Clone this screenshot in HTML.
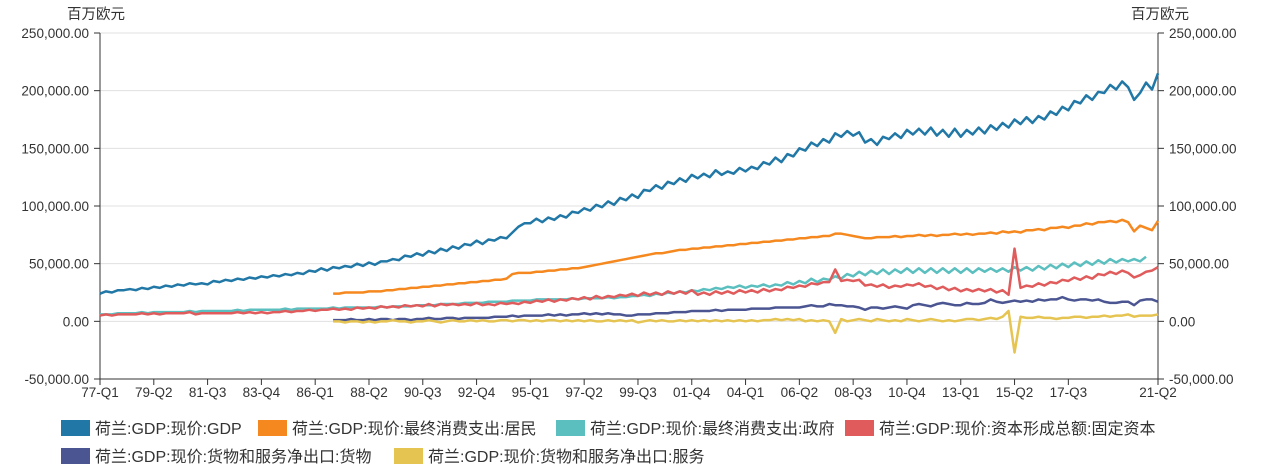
<!DOCTYPE html>
<html><head><meta charset="utf-8">
<style>
html,body{margin:0;padding:0;background:#fff;}
body{width:1266px;height:470px;overflow:hidden;font-family:"Liberation Sans","Noto Sans CJK SC",sans-serif;}
svg text{font-family:"Liberation Sans","Noto Sans CJK SC",sans-serif;}
</style></head>
<body>
<svg id="chart" width="1266" height="470" xmlns="http://www.w3.org/2000/svg"></svg>
<script>
const yTicks=[250000,200000,150000,100000,50000,0,-50000];
const yTickLabels=["250,000.00","200,000.00","150,000.00","100,000.00","50,000.00","0.00","-50,000.00"];
const xTickLabels=["77-Q1","79-Q2","81-Q3","83-Q4","86-Q1","88-Q2","90-Q3","92-Q4","95-Q1","97-Q2","99-Q3","01-Q4","04-Q1","06-Q2","08-Q3","10-Q4","13-Q1","15-Q2","17-Q3","21-Q2"];
const xTickIndex=[0,9,18,27,36,45,54,63,72,81,90,99,108,117,126,135,144,153,162,177];
const seriesNames=["荷兰:GDP:现价:GDP","荷兰:GDP:现价:最终消费支出:居民","荷兰:GDP:现价:最终消费支出:政府","荷兰:GDP:现价:资本形成总额:固定资本","荷兰:GDP:现价:货物和服务净出口:货物","荷兰:GDP:现价:货物和服务净出口:服务"];
// values in thousand million EUR
const gdp=[24,26,25,27,27,28,27,29,28,30,29,31,30,32,31,33,32,33,32,35,34,36,35,37,36,38,37,39,38,40,39,41,40,42,41,44,43,46,44,47,46,48,47,50,48,51,49,52,52,54,53,57,56,59,57,61,59,63,61,65,63,67,66,70,67,71,70,73,72,77,82,85,85,89,86,90,88,92,90,95,94,98,96,101,99,104,101,107,105,110,107,114,113,118,115,121,119,124,121,127,124,128,125,131,127,130,128,133,130,134,132,138,136,142,138,145,143,150,148,155,152,158,155,163,160,165,161,164,155,158,153,160,158,163,159,166,162,167,162,168,161,166,160,167,160,166,162,168,163,170,166,172,168,175,171,177,172,178,175,182,179,186,183,191,189,196,192,199,198,205,201,208,203,192,198,207,201,215];
const household=[null,null,null,null,null,null,null,null,null,null,null,null,null,null,null,null,null,null,null,null,null,null,null,null,null,null,null,null,null,null,null,null,null,null,null,null,null,null,null,24,24,25,25,25,25,26,26,26,27,27,28,28,29,29,30,30,31,31,32,32,33,33,34,34,35,35,36,36,37,41,42,42,42,43,43,44,44,45,45,46,46,47,48,49,50,51,52,53,54,55,56,57,58,59,59,60,61,62,62,63,63,64,64,65,65,66,66,67,67,68,68,69,69,70,70,71,71,72,72,73,73,74,74,76,76,75,74,73,72,72,73,73,73,74,73,74,74,75,74,75,74,75,75,76,75,76,75,76,76,77,76,78,77,78,77,79,79,80,79,81,81,82,81,83,83,85,84,86,86,87,86,88,86,78,83,81,79,87];
const government=[6,6,6,7,7,7,7,8,7,8,8,8,8,8,8,9,8,9,9,9,9,9,9,10,9,10,10,10,10,10,10,11,10,11,11,11,11,11,11,12,11,12,12,12,12,12,12,13,12,13,13,13,13,14,14,14,14,15,15,15,15,16,16,16,16,17,17,17,17,18,18,18,18,19,19,19,19,19,19,20,19,20,20,20,20,21,20,21,21,22,22,23,22,24,23,25,24,26,25,27,26,28,27,29,28,30,29,31,29,31,30,32,30,32,31,34,32,35,33,37,34,37,36,39,37,41,39,43,40,44,41,45,41,45,42,46,42,46,42,46,42,46,42,46,42,46,42,46,43,46,43,46,43,47,44,47,44,48,45,49,46,50,47,51,48,52,49,53,50,54,51,54,52,54,52,56];
const fixedCapital=[5,6,5,6,6,6,6,7,6,7,6,7,7,7,7,8,6,7,7,7,7,7,7,8,7,8,7,8,7,8,8,9,8,9,9,10,9,10,10,11,10,11,10,12,11,12,11,13,12,13,12,14,13,14,13,15,13,15,14,15,14,15,14,16,14,15,14,16,15,16,15,17,16,18,17,19,17,19,18,20,19,21,19,22,20,22,21,23,22,24,22,25,23,25,23,26,24,26,24,27,23,25,23,26,24,26,24,27,25,27,25,28,26,28,27,30,29,31,30,33,32,34,34,45,35,36,35,36,31,32,30,32,29,31,30,32,31,33,30,31,28,30,27,29,26,28,26,28,26,28,25,27,23,63,29,31,30,33,31,34,33,36,35,38,36,39,37,41,40,43,41,44,42,38,40,43,44,47];
const goods=[null,null,null,null,null,null,null,null,null,null,null,null,null,null,null,null,null,null,null,null,null,null,null,null,null,null,null,null,null,null,null,null,null,null,null,null,null,null,null,1,1,1,2,1,1,2,1,2,2,1,2,2,1,2,2,3,2,2,3,3,2,3,3,3,3,3,4,4,4,5,4,5,5,5,5,6,5,6,5,6,6,7,6,7,6,7,6,6,5,5,6,6,6,7,7,7,8,8,8,9,9,9,9,10,9,10,10,10,10,11,11,11,11,12,12,12,12,12,13,14,13,13,15,14,14,13,13,12,10,12,12,11,12,13,12,11,14,15,14,13,15,16,15,14,14,16,15,15,16,19,17,16,17,18,17,18,17,19,18,19,19,21,19,18,19,19,18,19,17,16,16,17,17,14,18,19,19,17];
const services=[null,null,null,null,null,null,null,null,null,null,null,null,null,null,null,null,null,null,null,null,null,null,null,null,null,null,null,null,null,null,null,null,null,null,null,null,null,null,null,0,0,-1,0,0,-1,0,-1,0,0,1,0,0,-1,0,0,1,0,-1,0,1,0,0,1,0,1,0,0,1,1,0,1,1,0,1,0,1,1,0,1,0,1,0,1,0,0,1,0,1,0,1,-1,0,1,0,1,0,0,1,0,1,0,1,0,1,0,1,0,1,0,1,0,1,1,2,1,2,1,2,0,1,0,1,0,-10,2,0,1,2,1,0,2,1,0,1,0,2,1,0,1,2,1,0,1,0,1,2,2,1,2,3,2,4,9,-27,4,3,3,4,3,3,2,3,3,4,4,3,4,4,5,4,5,5,6,4,5,5,5,6];
const allSeries=[gdp,household,government,fixedCapital,goods,services];
const colors=["#2178a6","#f5881f","#5cbfbf","#e05c5c","#4a5591","#e6c452"];
const seriesKeys=["gdp","household","government","fixed-capital","goods-net-export","services-net-export"];

const X0=100,X1=1158,Y0=33,Y1=379,N=177;
const xs=i=>X0+(X1-X0)*i/N;
const ys=v=>Y0+(250000-v)/300000*(Y1-Y0);
const svg=document.getElementById('chart');
const NS="http://www.w3.org/2000/svg";
function mk(tag,attrs){const e=document.createElementNS(NS,tag);for(const k in attrs)e.setAttribute(k,attrs[k]);svg.appendChild(e);return e;}

yTicks.forEach((t,i)=>{
  const y=ys(t);
  if(t!==-50000){const g=mk('line',{x1:X0,x2:X1,y1:y,y2:y,stroke:'#e0e0e0','stroke-width':1});
  
  }
  const l=mk('line',{x1:X0-6,x2:X0,y1:y,y2:y,stroke:'#333'});
  
  
  const r=mk('line',{x1:X1,x2:X1+6,y1:y,y2:y,stroke:'#333'});
  
  
  const tl=mk('text',{x:X0-11,y:y+5,'text-anchor':'end','font-size':13.5,fill:'#333'});
  tl.textContent=yTickLabels[i];
  
  
  const tr=mk('text',{x:X1+11,y:y+5,'text-anchor':'start','font-size':13.5,fill:'#333'});
  tr.textContent=yTickLabels[i];
  
  
});
const la=mk('line',{x1:X0,x2:X0,y1:Y0,y2:Y1,stroke:'#333'});


const ra=mk('line',{x1:X1,x2:X1,y1:Y0,y2:Y1,stroke:'#333'});


const xa=mk('line',{x1:X0,x2:X1,y1:Y1,y2:Y1,stroke:'#333'});


const u1=mk('text',{x:96,y:19,'text-anchor':'middle','font-size':14.5,fill:'#333'});
u1.textContent='百万欧元';


const u2=mk('text',{x:1160,y:19,'text-anchor':'middle','font-size':14.5,fill:'#333'});
u2.textContent='百万欧元';



xTickIndex.forEach((idx,i)=>{
  const x=xs(idx);
  const t=mk('line',{x1:x,x2:x,y1:Y1,y2:Y1+6,stroke:'#333'});
  
  
  const tx=mk('text',{x:x,y:Y1+18,'text-anchor':'middle','font-size':13.5,fill:'#333'});
  tx.textContent=xTickLabels[i];
  
  
});

allSeries.forEach((arr,s)=>{
  let d='',pen=false;
  arr.forEach((v,i)=>{
    if(v===null){pen=false;return;}
    d+=(pen?'L':'M')+xs(i).toFixed(2)+','+ys(v*1000).toFixed(2);
    pen=true;
  });
  const p=mk('path',{d:d,fill:'none',stroke:colors[s],'stroke-width':2.5,'stroke-linejoin':'round'});
  
  
});

const legendPos=[[61,420],[258,420],[556,420],[845,420],[61,448],[394,448]];
seriesNames.forEach((n,s)=>{
  const [x,y]=legendPos[s];
  const r=mk('rect',{x:x,y:y,width:29,height:16,fill:colors[s]});
  
  
  const t=mk('text',{x:x+34,y:y+14,'font-size':16,fill:'#333'});
  t.textContent=n;
  
  
});
</script>
</body></html>
